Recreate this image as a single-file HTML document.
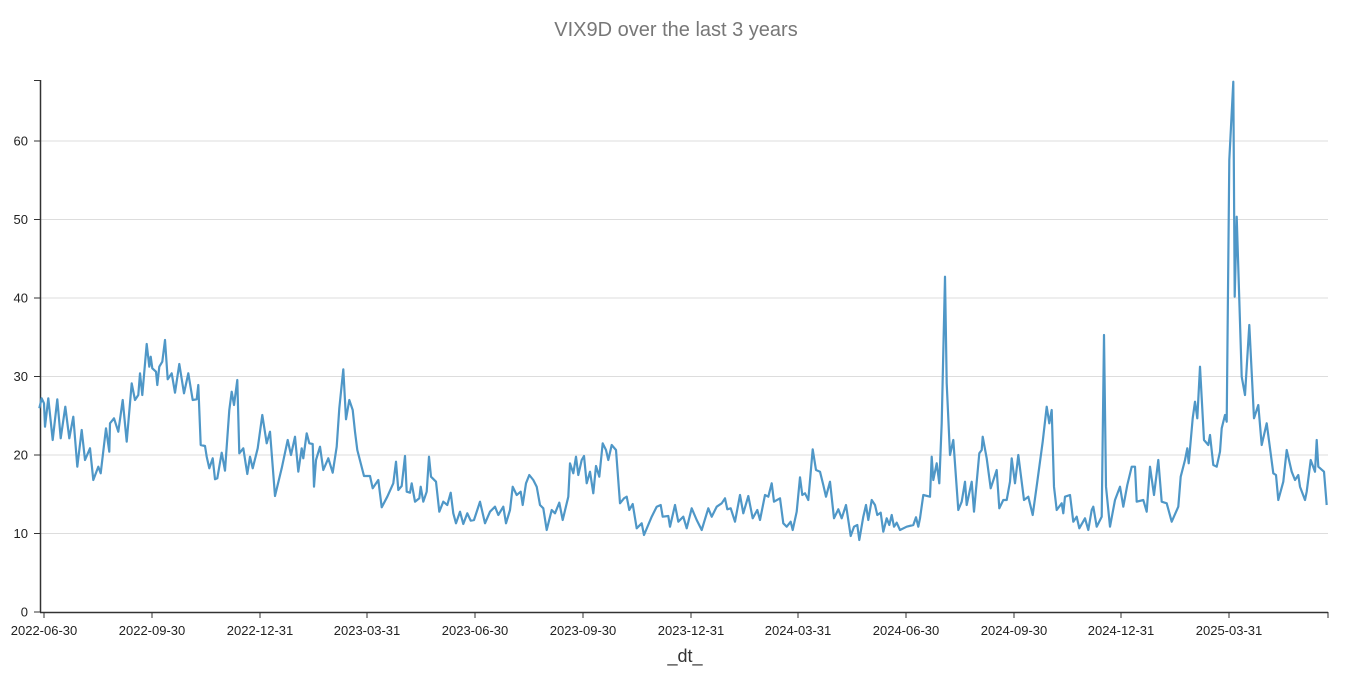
<!DOCTYPE html>
<html><head><meta charset="utf-8"><style>
body{margin:0;background:#fff;}
svg{display:block;font-family:"Liberation Sans",sans-serif;}
</style></head><body>
<svg id="s" width="1352" height="681" viewBox="0 0 1352 681">
<text x="676" y="36" text-anchor="middle" font-size="20" fill="#777">VIX9D over the last 3 years</text>
<g id="grid"></g>
<line x1="40.5" y1="80" x2="40.5" y2="612" stroke="#333" stroke-width="1.5"/>
<line x1="40" y1="612.5" x2="1328" y2="612.5" stroke="#333" stroke-width="1.5"/>
<g id="ticks" font-size="13" fill="#222"></g>
<text x="685" y="662" text-anchor="middle" font-size="18" fill="#333">_dt_</text>
<polyline id="line" fill="none" stroke="#4f97c7" stroke-width="2.2" stroke-linejoin="round"/>
</svg>
<script>
var ns="http://www.w3.org/2000/svg",g=document.getElementById('grid'),t=document.getElementById('ticks');
function el(p,tag,a,txt){var e=document.createElementNS(ns,tag);for(var k in a)e.setAttribute(k,a[k]);if(txt!=null)e.textContent=txt;p.appendChild(e);return e;}
for(var v=0;v<=60;v+=10){var y=612-v*7.85;
 if(v>0)el(g,'line',{x1:40,x2:1328,y1:y,y2:y,stroke:'#ddd','stroke-width':1});
 el(t,'line',{x1:34,x2:40,y1:y,y2:y,stroke:'#333'});
 el(t,'text',{x:28,y:y+4.5,'text-anchor':'end'},v);}
el(t,'line',{x1:34,x2:40,y1:80.5,y2:80.5,stroke:'#333'});
var d=['2022-06-30','2022-09-30','2022-12-31','2023-03-31','2023-06-30','2023-09-30','2023-12-31','2024-03-31','2024-06-30','2024-09-30','2024-12-31','2025-03-31'];
var xs=[44,152,260,367,475,583,691,798,906,1014,1121,1229];
d.forEach(function(s,i){el(t,'line',{x1:xs[i],x2:xs[i],y1:612,y2:618,stroke:'#333'});el(t,'text',{x:xs[i],y:635,'text-anchor':'middle'},s);});
el(t,'line',{x1:1328,x2:1328,y1:612,y2:618,stroke:'#333'});
var z1=[28,265,35,235,42,250,45,320,55,235,68,360,82,238,92,355,106,260,118,355,130,290,142,440,155,330,165,420,180,385,190,480,205,440,212,460,228,325,238,395,240,310,252,295,265,335,278,240,290,365,305,190,315,240,325,225,330,160,337,225,350,72,358,140,362,110,367,145,378,155,382,195,388,140,397,125,405,60,413,178,425,160,435,218,448,132,462,220,475,160,488,240,500,238,505,195,512,375,525,378,530,410,538,445,548,415,555,478,562,475,575,398,585,452,598,270,605,215,612,255,622,180,628,400,640,385,652,462,660,410,668,445,683,385,697,285,710,370,720,335,735,528,755,445,773,360,783,405,795,350,805,455,815,385,820,415,830,340,838,370,848,372,852,500,858,420,870,380,880,450,895,415,908,458,920,380,928,265,940,148,948,298,958,240,968,270,975,335,982,390,1002,468,1020,468,1028,505,1045,480,1055,562,1072,530,1090,490,1098,425,1105,510,1115,498,1125,408,1130,515,1140,518,1145,490,1155,545,1168,535,1172,500,1180,545,1190,515,1197,410,1203,470,1218,485,1228,575,1240,545,1252,555,1262,518,1270,580,1278,610,1290,575,1300,612,1312,580,1322,602,1332,600,1350,545];
var z2=[45,430,60,395,75,380,85,405,100,380,108,430,120,390,128,320,140,345,152,335,158,375,168,310,178,285,190,300,200,320,210,375,220,385,230,450,245,390,255,400,268,368,278,420,295,350,300,250,310,280,318,230,325,285,335,240,342,228,350,310,360,275,370,340,378,258,388,290,398,190,408,210,415,240,425,195,438,210,450,370,462,355,470,350,478,390,488,372,500,445,515,430,522,465,545,410,560,380,572,375,578,410,595,408,600,440,615,375,625,425,640,410,650,445,665,385,680,420,695,450,715,385,725,410,740,380,755,370,765,355,772,388,782,385,795,425,810,345,820,400,835,348,848,415,862,390,870,420,885,345,895,350,905,310,912,365,930,355,940,430,950,440,962,425,968,450,980,395,990,292,997,345,1005,340,1015,360,1028,208,1038,270,1050,275,1060,315,1068,350,1080,305,1092,415,1105,388,1115,415,1128,375,1142,468,1152,440,1162,435,1168,480,1180,410,1188,375,1195,420,1205,360,1215,375,1222,405,1232,398,1240,455,1250,415,1258,435,1265,405,1272,440,1280,428,1290,450,1310,440,1330,435,1338,412,1345,440];
var z3=[60,1345,70,1275,90,1280,95,1160,100,1230,110,1180,118,1240,125,1060,135,620,140,940,150,1155,160,1110,175,1320,185,1295,195,1235,200,1305,215,1235,222,1325,238,1150,245,1140,248,1100,260,1165,272,1255,290,1200,298,1315,310,1290,320,1290,330,1235,335,1165,345,1240,355,1155,372,1290,385,1280,398,1335,412,1235,428,1115,440,1010,448,1060,455,1020,462,1250,470,1320,485,1300,490,1330,495,1280,510,1275,520,1355,530,1340,538,1375,555,1345,565,1380,575,1320,580,1310,590,1370,605,1340,612,795,618,1250,630,1370,645,1290,660,1250,670,1310,682,1245,695,1190,705,1190,710,1295,730,1290,740,1325,750,1190,762,1275,775,1170,785,1295,800,1300,815,1355,835,1310,842,1220,855,1170,862,1135,866,1180,878,1045,885,995,892,1045,900,890,912,1110,925,1125,930,1095,940,1185,950,1190,960,1145,965,1075,975,1035,980,1055,988,270,1000,35,1004,680,1010,440,1025,920,1035,975,1048,765,1062,1045,1075,1005,1085,1125,1100,1060,1120,1210,1128,1215,1135,1290,1150,1235,1160,1140,1175,1205,1185,1230,1195,1215,1200,1250,1215,1290,1220,1265,1232,1170,1245,1205,1250,1110,1255,1190,1272,1205,1280,1305];
var pts=[];
function add(a,ox,oy){for(var i=0;i<a.length;i+=2)pts.push((ox+a[i]/3).toFixed(1)+','+(oy+a[i+1]/3).toFixed(1));}
add(z1,30,320);add(z2,470,380);add(z3,900,70);
document.getElementById('line').setAttribute('points',pts.join(' '));
</script>
</body></html>
